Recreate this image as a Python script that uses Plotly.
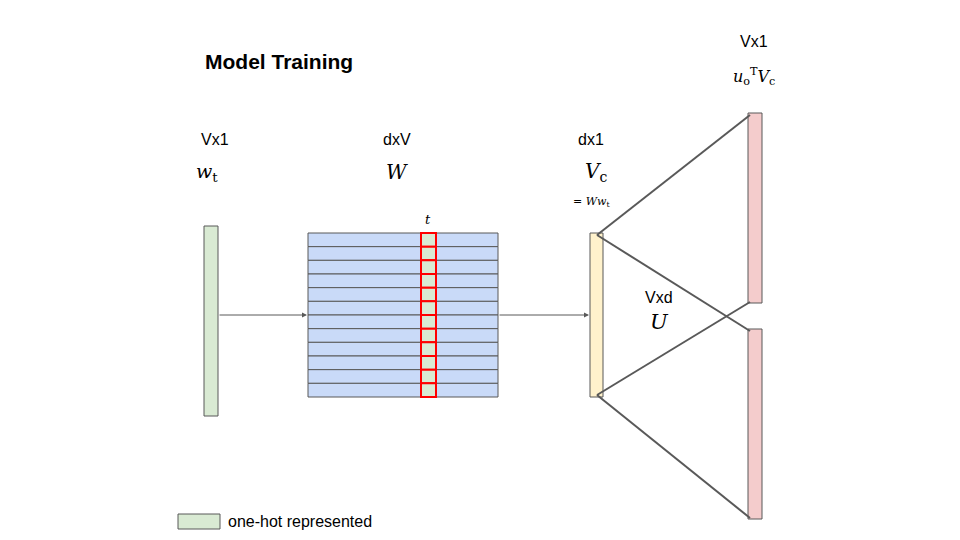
import plotly.graph_objects as go

# diagram pieces, in pixel coordinates of the 960x540 canvas
boxes = [  # x0, x1, y0, y1, fill
    (204, 218, 226, 416, "#d9ead3"),
    (590, 603, 233, 397, "#fff2cc"),
    (748, 762, 113, 303, "#f4cccc"),
    (748, 762, 329, 519, "#f4cccc"),
    (178, 220, 514, 529, "#d9ead3"),
]
mat_x = (308, 498)
mat_y = (233, 397)
n_rows = 12
col_x = (421, 436)
links = [((597, 235), (750, 115)), ((597, 235), (750, 331)),
         ((597, 395), (750, 302)), ((597, 395), (750, 518))]
arrows = [((218, 315), (307, 315)), ((498, 315), (589, 315))]
labels = [
    (215, 139, "Vx1", 16), (207, 172, "<i>w</i><sub>t</sub>", 19),
    (397, 139, "dxV", 16), (397, 172, "<i>W</i>", 20),
    (591, 139, "dx1", 16), (596, 172, "<i>V</i><sub>c</sub>", 20),
    (591, 202, "= <i>Ww</i><sub>t</sub>", 11), (428, 219, "<i>t</i>", 13),
    (754, 41, "Vx1", 16), (754, 76, "<i>u</i><sub>o</sub><sup>T</sup><i>V</i><sub>c</sub>", 16),
    (659, 297, "Vxd", 16), (659, 322, "<i>U</i>", 21),
]

fig = go.Figure()
shapes = []
line = dict(color="#595959", width=1)
for x0, x1, y0, y1, c in boxes:
    shapes.append(dict(type="rect", x0=x0, x1=x1, y0=y0, y1=y1, fillcolor=c, line=line))
rh = (mat_y[1] - mat_y[0]) / n_rows
for i in range(n_rows):
    y0 = mat_y[0] + i * rh
    shapes.append(dict(type="rect", x0=mat_x[0], x1=mat_x[1], y0=y0, y1=y0 + rh,
                       fillcolor="#c9daf8", line=line))
for i in range(n_rows):
    y0 = mat_y[0] + i * rh
    shapes.append(dict(type="rect", x0=col_x[0], x1=col_x[1], y0=y0, y1=y0 + rh,
                       fillcolor="#d9ead3", line=dict(color="#ff0000", width=2)))
for (xa, ya), (xb, yb) in links:
    shapes.append(dict(type="line", x0=xa, y0=ya, x1=xb, y1=yb,
                       line=dict(color="#595959", width=2)))
fig.update_layout(shapes=shapes)

for (xa, ya), (xb, yb) in arrows:
    fig.add_annotation(x=xb, y=yb, ax=xa, ay=ya, xref="x", yref="y", axref="x", ayref="y",
                       showarrow=True, arrowhead=2, arrowsize=1, arrowwidth=1,
                       arrowcolor="#595959", text="")
for x, y, t, s in labels:
    fig.add_annotation(x=x, y=y, text=t, showarrow=False, font=dict(size=s, color="black",
                       family="DejaVu Serif" if "<i>" in t else "Arial"))
fig.add_annotation(x=203, y=61, text="<b>Model Training</b>", showarrow=False, xanchor="left",
                   font=dict(size=21, color="black", family="Arial"))
fig.add_annotation(x=226, y=521, text="one-hot represented", showarrow=False, xanchor="left",
                   font=dict(size=16, color="black", family="Arial"))

# page puts the plot 8px in from the top-left corner, so shift the view to match
fig.update_xaxes(range=[8, 968], visible=False)
fig.update_yaxes(range=[548, 8], visible=False)
fig.update_layout(width=960, height=540, margin=dict(l=0, r=0, t=0, b=0),
                  plot_bgcolor="white", paper_bgcolor="white", showlegend=False)
fig.write_html("out.html")
